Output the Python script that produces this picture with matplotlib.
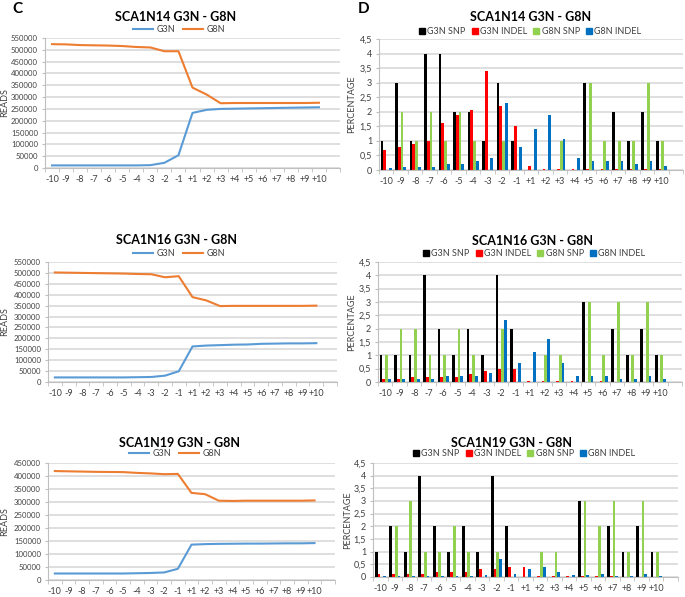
import numpy as np
import matplotlib.pyplot as plt
from matplotlib.lines import Line2D
from matplotlib import font_manager

plt.rcParams['font.family'] = ['Lato', 'DejaVu Sans']

positions = ["-10", "-9", "-8", "-7", "-6", "-5", "-4", "-3", "-2", "-1",
             "+1", "+2", "+3", "+4", "+5", "+6", "+7", "+8", "+9", "+10"]

# reads (panel C)
n14_g3n = [11000, 11000, 11000, 11000, 11000, 11000, 11000, 12000, 22000, 54000,
           233000, 246000, 250000, 251000, 252000, 253000, 254000, 255000, 256000, 257000]
n14_g8n = [524000, 523000, 520000, 519000, 518000, 516000, 512000, 510000, 494000, 494000,
           340000, 311000, 274000, 275000, 275000, 275000, 275000, 275000, 275000, 276000]
n16_g3n = [21000, 21000, 21000, 21000, 21000, 21000, 22000, 23000, 29000, 49000,
           163000, 167000, 169000, 171000, 172000, 175000, 176000, 177000, 177000, 178000]
n16_g8n = [502000, 501000, 500000, 499000, 498000, 497000, 495000, 494000, 480000, 485000,
           389000, 374000, 348000, 349000, 349000, 349000, 349000, 349000, 349000, 350000]
n19_g3n = [25000, 25000, 25000, 25000, 25000, 25000, 26000, 27000, 29000, 43000,
           136000, 138000, 139000, 139500, 140000, 140000, 140500, 141000, 141000, 142000]
n19_g8n = [419000, 418000, 417000, 416000, 415500, 415000, 412000, 410000, 407000, 408000,
           335000, 330000, 305000, 304000, 305000, 305000, 305000, 305000, 305000, 306000]

# percentages (panel D)
n14_g3n_snp = [1, 3, 1, 4, 4, 2, 2, 1, 3, 1, 0, 0, 0, 0, 3, 0, 2, 1, 2, 1]
n14_g3n_indel = [0.7, 0.8, 0.9, 1.0, 1.6, 1.9, 2.07, 3.4, 2.2, 1.5,
                 0.15, 0.05, 0.03, 0.03, 0.03, 0.03, 0.03, 0.03, 0.03, 0.03]
n14_g8n_snp = [0, 2, 1, 2, 1, 2, 1, 0, 1, 0, 0, 0, 1, 0, 3, 1, 1, 1, 3, 1]
n14_g8n_indel = [0.08, 0.1, 0.1, 0.1, 0.2, 0.2, 0.3, 0.4, 2.3, 0.8,
                 1.4, 1.9, 1.07, 0.4, 0.3, 0.3, 0.3, 0.2, 0.3, 0.15]

n16_g3n_snp = [1, 1, 1, 4, 2, 1, 2, 1, 4, 2, 0, 0, 0, 0, 3, 0, 2, 1, 2, 1]
n16_g3n_indel = [0.1, 0.1, 0.2, 0.2, 0.2, 0.2, 0.3, 0.4, 0.5, 0.5,
                 0.05, 0.05, 0.02, 0.02, 0, 0.02, 0, 0, 0, 0]
n16_g8n_snp = [1, 2, 2, 1, 1, 2, 1, 0, 2, 0, 0, 1, 1, 0, 3, 1, 3, 1, 3, 1]
n16_g8n_indel = [0.12, 0.12, 0.12, 0.12, 0.22, 0.22, 0.22, 0.32, 2.32, 0.72,
                 1.12, 1.62, 0.72, 0.22, 0.22, 0.22, 0.12, 0.12, 0.22, 0.1]

n19_g3n_snp = [1, 2, 1, 4, 2, 1, 2, 1, 4, 2, 0, 0, 0, 0, 3, 0, 2, 1, 2, 1]
n19_g3n_indel = [0.1, 0.1, 0.1, 0.1, 0.2, 0.2, 0.2, 0.3, 0.3, 0.4,
                 0.4, 0.03, 0.02, 0.02, 0.02, 0.02, 0.02, 0, 0, 0]
n19_g8n_snp = [0, 2, 3, 1, 1, 2, 1, 0, 1, 0, 0, 1, 1, 0, 3, 2, 3, 1, 3, 1]
n19_g8n_indel = [0.02, 0.02, 0.02, 0.03, 0.05, 0.05, 0.05, 0.07, 0.7, 0.1,
                 0.3, 0.4, 0.2, 0.08, 0.08, 0.1, 0.05, 0.05, 0.1, 0.05]

# narrow font for the long y tick labels if it is there
installed = {f.name for f in font_manager.fontManager.ttflist}
if 'Liberation Sans Narrow' in installed:
    ytick_font = dict(family='Liberation Sans Narrow', fontsize=6.8)
else:
    ytick_font = dict(fontsize=5.6)

W, H = 685, 597
fig = plt.figure(figsize=(W / 100, H / 100), dpi=100)


def box(l, t, r, b):
    return [l / W, 1 - b / H, (r - l) / W, (b - t) / H]


def ftext(x, y, s, **kw):
    fig.text(x / W, 1 - y / H, s, ha='center', va='center', **kw)


def style_axis(ax, ylim, yticks, ylabels, yfont):
    x = np.arange(len(positions))
    ax.set_xlim(-0.5, len(positions) + 0.5)
    ax.set_ylim(*ylim)
    ax.set_xticks(x)
    ax.set_xticklabels(positions, fontsize=6.5, color='#404040')
    ax.set_xticks(np.arange(-0.5, len(positions) + 1), minor=True)
    ax.tick_params(axis='x', which='major', length=0, pad=5)
    ax.tick_params(axis='x', which='minor', length=3, color='#bfbfbf')
    ax.set_yticks(yticks)
    ax.set_yticklabels(ylabels, color='#404040', **yfont)
    ax.tick_params(axis='y', length=2, color='#bfbfbf', pad=3)
    ax.yaxis.grid(True, color='#d9d9d9', lw=1.2)
    ax.set_axisbelow(True)
    for s in ['top', 'right']:
        ax.spines[s].set_visible(False)
    ax.spines['left'].set_color('#bfbfbf')
    ax.spines['bottom'].set_color('#bfbfbf')


def line_panel(rect, g3n, g8n, ymax, title, tpos, lpos, ylab_x):
    ax = fig.add_axes(box(*rect))
    x = np.arange(len(positions))
    ax.plot(x, g3n, color='#5b9bd5', lw=1.5)
    ax.plot(x, g8n, color='#ed7d31', lw=1.5)
    ticks = np.arange(0, ymax + 1, 50000)
    style_axis(ax, (0, ymax), ticks, [str(t) for t in ticks], ytick_font)
    ftext(*tpos, title, fontsize=9, fontweight='bold')
    handles = [Line2D([], [], color='#5b9bd5', lw=1.5),
               Line2D([], [], color='#ed7d31', lw=1.5)]
    fig.legend(handles, ['G3N', 'G8N'], loc='center', ncol=2,
               bbox_to_anchor=(lpos[0] / W, 1 - lpos[1] / H), frameon=False,
               fontsize=6.5, handlelength=2.2, columnspacing=0.8, handletextpad=0.4,
               borderpad=0, labelcolor='#404040')
    ftext(ylab_x, (rect[1] + rect[3]) / 2, 'READS', fontsize=6.5, rotation=90, color='#404040')
    return ax


def bar_panel(rect, series, title, tpos, lpos, ylab_x):
    ax = fig.add_axes(box(*rect))
    x = np.arange(len(positions))
    colors = ['#000000', '#ff0000', '#92d050', '#0070c0']
    w = 0.19
    for k, (vals, c) in enumerate(zip(series, colors)):
        ax.bar(x + (k - 1.5) * w, vals, width=w, color=c)
    ticks = np.arange(0, 4.51, 0.5)
    labels = [('%g' % t).replace('.', ',') for t in ticks]
    style_axis(ax, (0, 4.5), ticks, labels, dict(fontsize=6.5))
    ftext(*tpos, title, fontsize=9, fontweight='bold')
    handles = [Line2D([], [], marker='s', ls='none', color=c, markersize=4) for c in colors]
    fig.legend(handles, ['G3N SNP', 'G3N INDEL', 'G8N SNP', 'G8N INDEL'], loc='center',
               ncol=4, bbox_to_anchor=(lpos[0] / W, 1 - lpos[1] / H), frameon=False,
               fontsize=6.5, handlelength=0.8, columnspacing=0.6, handletextpad=0.2,
               borderpad=0, labelcolor='#404040')
    ftext(ylab_x, (rect[1] + rect[3]) / 2, 'PERCENTAGE', fontsize=6.5, rotation=90,
          color='#404040')
    return ax


line_panel((45, 38, 340, 168), n14_g3n, n14_g8n, 550000, 'SCA1N14 G3N - G8N',
           (176, 17), (179, 30), 5)
line_panel((48, 262, 337, 382), n16_g3n, n16_g8n, 550000, 'SCA1N16 G3N - G8N',
           (177, 240), (179, 254), 5)
line_panel((48, 463, 335, 580), n19_g3n, n19_g8n, 450000, 'SCA1N19 G3N - G8N',
           (179, 443), (175, 454), 5)

bar_panel((379, 39, 683, 170), [n14_g3n_snp, n14_g3n_indel, n14_g8n_snp, n14_g8n_indel],
          'SCA1N14 G3N - G8N', (531, 17), (530, 32), 352)
bar_panel((378, 262, 682, 382), [n16_g3n_snp, n16_g3n_indel, n16_g8n_snp, n16_g8n_indel],
          'SCA1N16 G3N - G8N', (532, 241), (534, 254), 352)
bar_panel((373, 463, 678, 577), [n19_g3n_snp, n19_g3n_indel, n19_g8n_snp, n19_g8n_indel],
          'SCA1N19 G3N - G8N', (512, 443), (524, 454), 348)

ftext(17, 9, 'C', fontsize=11, fontweight='bold')
ftext(364, 9, 'D', fontsize=11, fontweight='bold')

fig.savefig('out.png', dpi=100)
